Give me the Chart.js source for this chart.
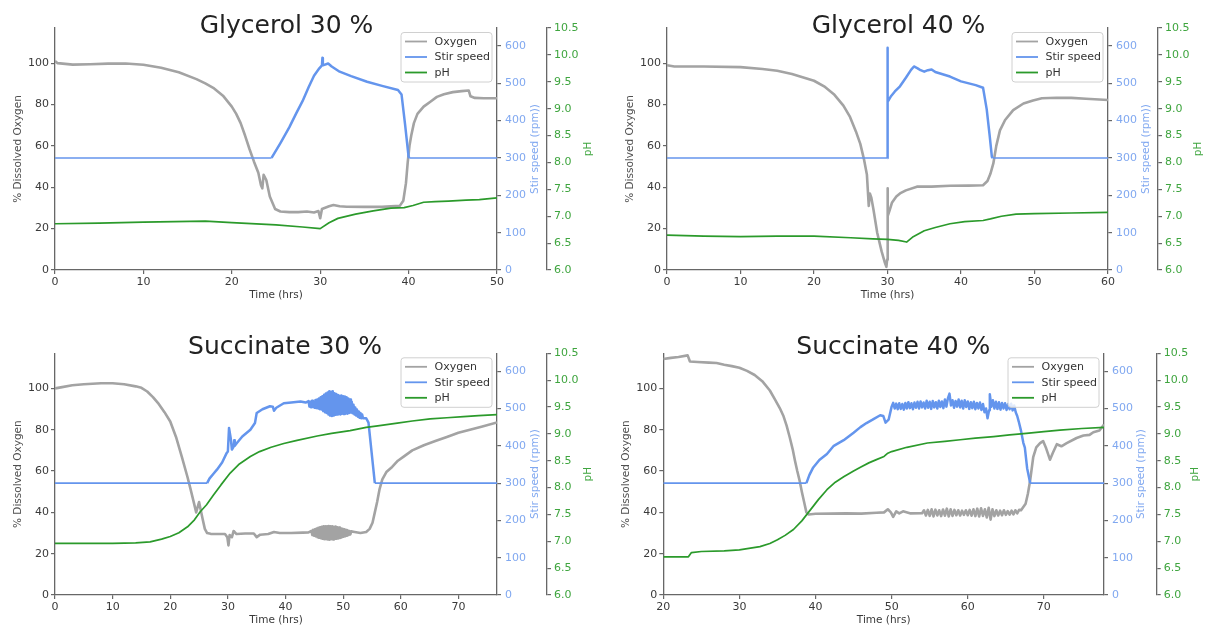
<!DOCTYPE html>
<html>
<head>
<meta charset="utf-8">
<title>Fermentation runs: dissolved oxygen, stir speed and pH</title>
<script src="https://cdn.jsdelivr.net/npm/chart.js@4.4.1/dist/chart.umd.min.js"></script>
<style>
  html, body { margin: 0; padding: 0; background: #ffffff; }
  #page { position: relative; width: 1208px; height: 629px; background: #ffffff; overflow: hidden; }
  #page canvas { position: absolute; }
</style>
</head>
<body>
<div id="page">
  <canvas id="g30" width="604" height="314" style="left:0px;top:0px"></canvas>
  <canvas id="g40" width="604" height="314" style="left:604px;top:0px"></canvas>
  <canvas id="s30" width="604" height="315" style="left:0px;top:314px"></canvas>
  <canvas id="s40" width="604" height="315" style="left:604px;top:314px"></canvas>
</div>
<script>
// ---------- series: [time (hrs), value] ----------
const g30Oxygen = [[0,101],[0.3,100],[2,99.3],[4,99.5],[6,99.8],[8,99.8],[10,99.2],[12,97.8],[14,95.6],[16,92.3],[17,90.2],[18,87.8],[19,84.3],[20,79],[20.5,75.5],[21,71],[21.5,65],[22,58.5],[22.5,52.5],[23,47],[23.3,41],[23.45,39.5],[23.6,46],[23.9,43.5],[24.3,35.5],[24.9,29.5],[25.5,28.3],[26.5,28],[27.5,28],[28.5,28.3],[29.3,27.8],[29.8,28.5],[30.0,25],[30.2,29.5],[31,30.8],[31.5,31.4],[32.2,30.8],[33,30.6],[35,30.5],[37,30.5],[39,31],[39.4,33.5],[39.7,42],[39.9,52],[40.1,60],[40.3,65],[40.6,71],[41,75.5],[41.7,79],[42.5,81.5],[43.2,83.7],[44,85],[45,86],[46,86.5],[46.8,86.8],[47,84],[47.5,83.2],[48.5,83],[50,83]];
const g30Stir = [[0,300],[24.5,300],[25.5,340],[26.5,382],[27.3,420],[28,452],[28.7,490],[29.3,520],[29.9,540],[30.2,548],[30.25,568],[30.3,548],[30.9,553],[31.3,545],[32.2,531],[33.5,519],[35.3,504],[37,493],[38.8,482],[39.2,470],[39.6,390],[40.0,303],[40.1,300],[50,300]];
const g30PH = [[0,6.86],[5,6.87],[10,6.89],[17,6.91],[20,6.88],[25,6.84],[28,6.8],[30,6.77],[31,6.88],[32,6.96],[34,7.04],[36,7.1],[38,7.15],[39.5,7.16],[40.5,7.2],[41.7,7.26],[43,7.27],[44.5,7.28],[46.5,7.3],[48,7.31],[50,7.34]];

const g40Oxygen = [[0,99],[1,98.4],[5,98.4],[10,98.1],[13,97.2],[15,96.3],[17,94.8],[19,92.6],[20,91.5],[21.5,88.5],[22.7,85],[24,79.5],[24.9,74],[25.7,67],[26.3,61],[26.8,53.5],[27.2,46],[27.45,31],[27.6,37],[27.8,35],[28.1,29],[28.6,18],[29.2,9],[29.6,4],[29.85,1.5],[29.95,5],[30.0,39.5],[30.05,26],[30.3,29],[30.6,32.5],[31.2,35.5],[31.7,37],[32.5,38.5],[34,40.3],[36,40.3],[38.5,40.7],[41,40.8],[43,41],[43.6,43],[44,46.5],[44.4,51.5],[44.8,60],[45.3,67.5],[46,72.5],[47.1,77.3],[48.5,80.5],[49.8,82],[51,83],[53,83.3],[55,83.2],[57,82.8],[60,82.2]];
const g40Stir = [[0,300],[30,300],[30,595],[30.03,450],[30.5,466],[31,478],[31.7,492],[32.5,515],[33.2,536],[33.6,545],[34.1,540],[34.5,535],[35,531],[35.5,535],[36,537],[36.5,530],[38.5,518],[40,505],[42,495],[43,488],[43.5,430],[43.9,360],[44.2,303],[44.3,300],[60,300]];
const g40PH = [[0,6.65],[5,6.63],[10,6.62],[15,6.63],[20,6.63],[25,6.6],[28,6.58],[30,6.57],[31.5,6.55],[32.6,6.52],[33.5,6.62],[35,6.73],[36.5,6.79],[38.5,6.86],[40.5,6.9],[43,6.92],[44,6.95],[45.5,7.0],[47.5,7.04],[50,7.05],[55,7.06],[60,7.07]];

const s30Oxygen = [[0,100],[1,100.5],[3,101.5],[5,102],[8,102.5],[10,102.5],[12,102],[14,101],[15,100.3],[16,98.5],[17,95.8],[18,92.5],[19,88.5],[20,84],[21,76.5],[22,67],[23,57],[23.5,51.5],[24,45.8],[24.5,40],[24.8,43],[25.0,45],[25.3,41],[25.6,37],[26,32],[26.4,30],[27,29.6],[28,29.5],[29.5,29.5],[29.9,28],[30.1,24],[30.3,29],[30.7,28],[31,31],[31.5,29.5],[33,29.8],[34.5,29.8],[35,28],[35.6,29.2],[37,29.5],[38,30.5],[39,30],[41,30],[43,30.2],[44,30.3],
  [44.5,31],[44.65,29],[44.8,31.5],[44.95,28.7],[45.1,31.8],[45.25,28.4],[45.4,32.2],[45.55,28],[45.7,32.5],[45.85,27.7],[46.0,32.8],[46.15,27.5],[46.3,33],[46.45,27.2],[46.6,33.2],[46.75,27],[46.9,33.3],[47.05,27],[47.2,33.2],[47.35,26.9],[47.5,33.4],[47.65,26.8],[47.8,33.3],[47.95,27],[48.1,33.2],[48.25,26.9],[48.4,33],[48.55,27.1],[48.7,33.1],[48.85,27.3],[49.0,32.8],[49.15,27.4],[49.3,32.6],[49.45,27.6],[49.6,32.3],[49.75,27.9],[49.9,32],[50.05,28.2],[50.2,31.8],[50.35,28.4],[50.5,31.5],[50.65,28.7],[50.8,31.2],[50.95,29],[51.1,31],[51.25,29.3],[51.4,30.8],
  [52,30.5],[53,30],[54,30.5],[54.6,32],[55.1,35],[55.5,40],[55.9,45],[56.3,51],[56.8,56],[57.5,59.5],[58.5,62],[59.5,65],[60.5,67],[62,70],[64,72.5],[66,74.5],[68,76.5],[70,78.5],[72,80],[74,81.5],[76.7,83.5]];
const s30Stir = [[0,300],[26.4,300],[26.8,312],[27.5,325],[28.1,336],[29,355],[29.8,381],[30.0,385],[30.2,448],[30.5,420],[30.7,390],[31,398],[31.1,415],[31.2,400],[31.6,408],[32.5,425],[33.9,443],[34.7,461],[35.0,488],[36,498],[37.3,506],[37.8,505],[38,494],[38.4,502],[39.7,514],[41,516],[42.6,519],[43.5,516],
  [44.0,520],[44.15,505],[44.3,518],[44.45,503],[44.6,521],[44.75,504],[44.9,519],[45.05,502],[45.2,523],[45.35,501],[45.5,524],[45.65,500],[45.8,527],[45.95,498],[46.1,530],[46.25,497],[46.4,533],[46.55,493],[46.7,537],[46.85,490],[47.0,540],[47.15,488],[47.3,543],[47.45,484],[47.6,546],[47.75,481],[47.9,545],[48.05,480],[48.2,546],[48.35,481],[48.5,541],[48.65,483],[48.8,539],[48.95,484],[49.1,536],[49.25,485],[49.4,534],[49.55,484],[49.7,535],[49.85,486],[50.0,533],[50.15,485],[50.3,532],[50.45,487],[50.6,530],[50.75,486],[50.9,527],[51.05,488],[51.2,524],[51.35,489],[51.5,518],[51.65,487],[51.8,510],[51.95,484],[52.1,503],[52.25,481],[52.4,497],[52.55,478],[52.7,492],[52.85,475],[53.0,488],[53.15,474],[53.3,484],[53.45,474],
  [54,474],[54.4,462],[55.5,300],[76.7,300]];
const s30PH = [[0,6.96],[10,6.96],[14,6.97],[16.5,6.99],[18.5,7.04],[20,7.09],[21.5,7.16],[23,7.27],[24.2,7.4],[25.2,7.55],[26.3,7.68],[27.5,7.86],[28.8,8.05],[30.4,8.27],[32,8.44],[33.9,8.58],[35.5,8.67],[37.5,8.75],[39.7,8.82],[42,8.88],[45.5,8.96],[48,9.01],[51.2,9.06],[54,9.12],[56,9.15],[59.4,9.2],[62,9.24],[65.1,9.28],[68,9.3],[70.9,9.32],[73.5,9.34],[76.7,9.36]];

const s40Oxygen = [[20,114.2],[21,114.8],[22,115.2],[23.2,116],[23.5,113],[24.5,112.8],[26,112.5],[27,112.3],[28,111.5],[29,110.8],[30,110],[31,108.5],[32,106.5],[33,103.5],[34,99],[34.7,94.5],[35.3,90.5],[35.8,86.5],[36.2,82],[36.6,76.5],[37,70.5],[37.3,65],[37.6,60],[37.9,55.5],[38.2,50],[38.5,45],[38.8,40],[39.1,39],[40,39.3],[42,39.4],[44,39.5],[46,39.4],[48,39.8],[49,40],[49.5,41.5],[49.9,40],[50.2,37.8],[50.6,40.5],[51,39.5],[51.5,40.5],[52.5,39.5],
  [54,39.6],[54.25,41],[54.5,38.5],[54.75,41.2],[55,38.3],[55.25,41.5],[55.5,38],[55.75,41.3],[56,38.5],[56.25,41],[56.5,38.2],[56.75,41.4],[57,38.4],[57.25,41.8],[57.5,38],[57.75,41.5],[58,38.3],[58.25,41.2],[58.5,38.6],[58.75,41],[59,38.5],[59.25,40.8],[59.5,38.8],[59.75,41],[60,38.6],[60.25,41.2],[60.5,38.4],[60.75,41.5],[61,38.2],[61.25,41.8],[61.5,38],[61.75,42],[62,38.3],[62.25,41.5],[62.5,37.5],[62.75,42.2],[63,36.5],[63.25,41.5],[63.5,38.2],[63.75,41],[64,38.5],[64.25,40.8],[64.5,38.6],[64.75,41],[65,38.8],[65.25,40.6],[65.5,38.9],[65.75,40.8],[66,39],[66.25,41],[66.5,39.5],[66.75,41.2],
  [67,41],[67.6,44.2],[67.9,49],[68.2,55.5],[68.6,66.7],[69,71.5],[69.5,73.5],[69.9,74.5],[70.3,71],[70.8,65.5],[71.2,69],[71.7,73],[72.3,72],[73,73.5],[74.3,76],[75.2,77.2],[76,77.5],[76.5,78.8],[77.3,79.6],[77.9,82.5]];
const s40Stir = [[20,300],[38.8,300],[39.2,322],[39.7,342],[40.5,362],[41.5,378],[42.4,400],[43.7,415],[45,435],[45.9,450],[46.7,461],[47.5,470],[48.5,482],[48.9,480],[49.2,462],[49.6,470],
  [50.0,505],[50.2,515],[50.4,500],[50.6,513],[50.8,498],[51.0,514],[51.2,499],[51.4,512],[51.6,497],[51.8,515],[52.0,500],[52.2,517],[52.4,501],[52.6,514],[52.8,498],[53.0,516],[53.2,502],[53.4,518],[53.6,500],[53.8,519],[54.0,503],[54.2,516],[54.4,500],[54.6,521],[54.8,502],[55.0,518],[55.2,499],[55.4,520],[55.6,503],[55.8,517],[56.0,500],[56.2,521],[56.4,504],[56.6,519],[56.8,501],[57.0,524],[57.2,505],[57.4,528],[57.6,540],[57.8,508],[58.0,522],[58.2,502],[58.4,520],[58.6,505],[58.8,524],[59.0,503],[59.2,521],[59.4,500],[59.6,522],[59.8,504],[60.0,519],[60.2,499],[60.4,517],[60.6,501],[60.8,518],[61.0,498],[61.2,515],[61.4,500],[61.6,516],[61.8,496],[62.0,512],[62.2,490],[62.4,500],[62.6,474],[62.8,495],[62.9,538],[63.1,505],[63.3,522],[63.5,500],[63.7,518],[63.9,499],[64.1,517],[64.3,497],[64.5,515],[64.7,500],[64.9,514],[65.1,496],[65.3,512],[65.5,498],[65.7,513],[65.9,495],[66.1,508],[66.3,490],[66.5,480],[66.7,465],
  [67,440],[67.3,408],[67.5,395],[67.8,340],[68.2,300],[77.9,300]];
const s40PH = [[20,6.71],[23.3,6.71],[23.7,6.79],[25,6.81],[28,6.82],[30,6.84],[32.7,6.9],[34,6.96],[35,7.03],[36,7.11],[37.1,7.22],[38.2,7.38],[39.3,7.58],[40.4,7.78],[41.5,7.96],[42.6,8.1],[43.7,8.2],[45,8.31],[45.9,8.38],[47,8.46],[48,8.52],[49,8.58],[49.5,8.64],[50,8.67],[52,8.75],[54.7,8.83],[57,8.86],[59,8.89],[61,8.92],[63.4,8.95],[65.5,8.98],[67.7,9.01],[70,9.04],[72.1,9.07],[75,9.1],[77.9,9.12]];

// ---------- tick labels ----------
const g30TimeTicks = [0, 10, 20, 30, 40, 50];
const g40TimeTicks = [0, 10, 20, 30, 40, 50, 60];
const s30TimeTicks = [0, 10, 20, 30, 40, 50, 60, 70];
const s40TimeTicks = [20, 30, 40, 50, 60, 70];
const oxygenTicks = [0, 20, 40, 60, 80, 100];
const stirTicks = [0, 100, 200, 300, 400, 500, 600];
const phTicks = [6.0, 6.5, 7.0, 7.5, 8.0, 8.5, 9.0, 9.5, 10.0, 10.5];

const seriesNames = ['Oxygen', 'Stir speed', 'pH'];

// ---------- styling ----------
const FONT = '"DejaVu Sans", "Liberation Sans", sans-serif';
const OXY = '#a3a3a3';
const STIR = '#6495ed';
const PH = '#2b9a2b';
const SPINE = '#676767';
const TICK_TXT = '#3a3a3a';
const STIR_TXT = '#80a8f0';
const PH_TXT = '#3fa53f';

const pts = a => a.map(([x, y]) => ({ x, y }));
const fixedTicks = list => scale => { scale.ticks = list.map(v => ({ value: v })); };

// Titles, axis captions and the in-plot legend
const decor = {
  id: 'decor',
  afterDraw(chart, args, o) {
    const { ctx, chartArea: a } = chart;
    ctx.save();
    // panel title
    ctx.font = '25px ' + FONT;
    ctx.fillStyle = '#222222';
    ctx.textAlign = 'center';
    ctx.textBaseline = 'alphabetic';
    ctx.fillText(o.title, o.titleX, o.titleY);

    // axis captions
    const vtext = (txt, x, y, color) => {
      ctx.save();
      ctx.translate(x, y);
      ctx.rotate(-Math.PI / 2);
      ctx.fillStyle = color;
      ctx.textAlign = 'center';
      ctx.textBaseline = 'middle';
      ctx.fillText(txt, 0, 0);
      ctx.restore();
    };
    ctx.font = '10.5px ' + FONT;
    const midY = (a.top + a.bottom) / 2;
    vtext('% Dissolved Oxygen', a.left - o.leftCap, midY, '#505050');
    vtext('Stir speed (rpm))', a.right + o.stirCap, midY, STIR_TXT);
    vtext('pH', a.right + o.phCap, midY, PH_TXT);
    ctx.fillStyle = '#3a3a3a';
    ctx.textAlign = 'center';
    ctx.textBaseline = 'middle';
    ctx.fillText('Time (hrs)', (a.left + a.right) / 2, a.bottom + 25.5);

    // legend
    const w = 91, h = 49.5;
    const bx = a.right - 5 - w, by = a.top + 4.5;
    ctx.beginPath();
    if (ctx.roundRect) ctx.roundRect(bx, by, w, h, 3); else ctx.rect(bx, by, w, h);
    ctx.fillStyle = 'rgba(255,255,255,0.8)';
    ctx.fill();
    ctx.lineWidth = 1;
    ctx.strokeStyle = '#d0d0d0';
    ctx.stroke();
    const colors = [OXY, STIR, PH];
    ctx.font = '11px ' + FONT;
    ctx.textAlign = 'left';
    ctx.textBaseline = 'middle';
    seriesNames.forEach((name, i) => {
      const ry = by + 9 + i * 15.5;
      ctx.beginPath();
      ctx.moveTo(bx + 4, ry);
      ctx.lineTo(bx + 26, ry);
      ctx.strokeStyle = colors[i];
      ctx.lineWidth = 1.8;
      ctx.stroke();
      ctx.fillStyle = '#333333';
      ctx.fillText(name, bx + 33.5, ry + 0.5);
    });
    ctx.restore();
  }
};

function makePanel(id, p) {
  const canvas = document.getElementById(id);
  const W = canvas.width, H = canvas.height;
  const tickFont = { family: FONT, size: 11 };
  const gridOpts = { drawOnChartArea: false, drawTicks: true, tickLength: 4, color: SPINE, lineWidth: 1.2 };
  const borderOpts = { display: true, color: SPINE, width: 1.3 };
  return new Chart(canvas, {
    type: 'line',
    data: {
      datasets: [
        { label: seriesNames[0], data: pts(p.oxygen), yAxisID: 'yO', borderColor: OXY, borderWidth: 2.6, order: 3 },
        { label: seriesNames[1], data: pts(p.stir), yAxisID: 'yS', borderColor: STIR, order: 2,
          segment: { borderWidth: c => (c.p0.parsed.y === 300 && c.p1.parsed.y === 300) ? 1.6 : 2.5 } },
        { label: seriesNames[2], data: pts(p.ph), yAxisID: 'yP', borderColor: PH, borderWidth: 1.7, order: 1 }
      ]
    },
    options: {
      responsive: false,
      animation: false,
      events: [],
      layout: { padding: { left: 0, right: 0, top: p.top, bottom: 0 } },
      elements: { point: { radius: 0 }, line: { tension: 0, borderJoinStyle: 'round' } },
      plugins: {
        legend: { display: false },
        tooltip: { enabled: false },
        decor: { title: p.title, titleX: p.titleX, titleY: p.titleY, leftCap: p.leftCap, stirCap: p.stirCap, phCap: p.phCap }
      },
      scales: {
        x: {
          type: 'linear', position: 'bottom', min: p.xMin, max: p.xMax,
          afterBuildTicks: fixedTicks(p.xTicks),
          afterFit: s => { s.height = H - p.bottom; },
          grid: gridOpts, border: borderOpts,
          ticks: { font: tickFont, color: TICK_TXT, padding: 2, maxRotation: 0, autoSkip: false }
        },
        yO: {
          type: 'linear', position: 'left', min: 0, max: 117,
          afterBuildTicks: fixedTicks(oxygenTicks),
          afterFit: s => { s.width = p.left; },
          grid: gridOpts, border: borderOpts,
          ticks: { font: tickFont, color: TICK_TXT, padding: 2 }
        },
        yS: {
          type: 'linear', position: 'right', weight: 0, min: 0, max: 648,
          afterBuildTicks: fixedTicks(stirTicks),
          afterFit: s => { s.width = p.stirW; },
          grid: gridOpts, border: borderOpts,
          ticks: { font: tickFont, color: STIR_TXT, padding: 4 }
        },
        yP: {
          type: 'linear', position: 'right', weight: 1, min: 6, max: 10.5,
          afterBuildTicks: fixedTicks(phTicks),
          afterFit: s => { s.width = W - p.right - p.stirW; },
          grid: gridOpts, border: borderOpts,
          ticks: { font: tickFont, color: PH_TXT, padding: 3, callback: v => Number(v).toFixed(1) }
        }
      }
    },
    plugins: [decor]
  });
}

makePanel('g30', { title: 'Glycerol 30 %', oxygen: g30Oxygen, stir: g30Stir, ph: g30PH,
  xMin: 0, xMax: 50, xTicks: g30TimeTicks,
  left: 55, right: 497, top: 28, bottom: 270, stirW: 50,
  titleX: 286.5, titleY: 33, leftCap: 36.7, stirCap: 38, phCap: 91.3 });

makePanel('g40', { title: 'Glycerol 40 %', oxygen: g40Oxygen, stir: g40Stir, ph: g40PH,
  xMin: 0, xMax: 60, xTicks: g40TimeTicks,
  left: 63, right: 504, top: 28, bottom: 270, stirW: 50,
  titleX: 294.5, titleY: 33, leftCap: 36.7, stirCap: 38.7, phCap: 90.3 });

makePanel('s30', { title: 'Succinate 30 %', oxygen: s30Oxygen, stir: s30Stir, ph: s30PH,
  xMin: 0, xMax: 76.7, xTicks: s30TimeTicks,
  left: 55, right: 497, top: 39.3, bottom: 281, stirW: 50,
  titleX: 285, titleY: 40, leftCap: 36.7, stirCap: 38, phCap: 91.3 });

makePanel('s40', { title: 'Succinate 40 %', oxygen: s40Oxygen, stir: s40Stir, ph: s40PH,
  xMin: 20, xMax: 77.9, xTicks: s40TimeTicks,
  left: 59.3, right: 500, top: 39.3, bottom: 281, stirW: 52.7,
  titleX: 289.3, titleY: 40, leftCap: 36.6, stirCap: 37.7, phCap: 91 });
</script>
</body>
</html>
